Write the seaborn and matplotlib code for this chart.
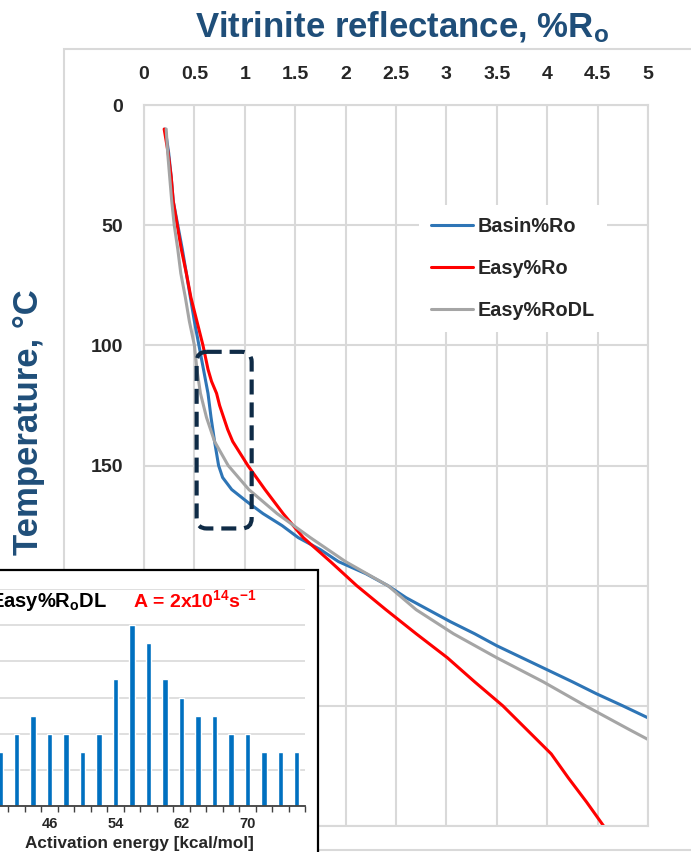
import numpy as np
import pandas as pd
import seaborn as sns
import matplotlib.pyplot as plt
from matplotlib.patches import Rectangle, FancyBboxPatch

# --- main chart: vitrinite reflectance (%Ro) vs temperature (C) ---
basin_temp = [10, 20, 30, 40, 50, 60, 70, 80, 90, 100, 110, 120, 130, 140, 150, 155, 160, 165,
              170, 175, 180, 185, 190, 195, 200, 205, 210, 215, 220, 225, 230, 235, 240, 245, 250, 255]
basin_ro = [0.21, 0.245, 0.27, 0.29, 0.335, 0.38, 0.42, 0.46, 0.50, 0.545, 0.59, 0.635, 0.665, 0.70,
            0.74, 0.78, 0.87, 1.02, 1.18, 1.37, 1.53, 1.75, 1.93, 2.20, 2.42, 2.60, 2.82, 3.04,
            3.28, 3.50, 3.75, 4.00, 4.25, 4.49, 4.75, 5.00]

easy_temp = [10, 20, 30, 40, 50, 60, 70, 80, 90, 100, 105, 110, 115, 120, 125, 130, 135, 140, 150,
             160, 170, 180, 190, 200, 210, 220, 230, 240, 250, 260, 270, 280, 290, 300]
easy_ro = [0.20, 0.24, 0.27, 0.29, 0.33, 0.37, 0.42, 0.465, 0.525, 0.585, 0.61, 0.635, 0.67, 0.72,
           0.75, 0.79, 0.83, 0.88, 1.03, 1.20, 1.38, 1.58, 1.85, 2.11, 2.40, 2.70, 3.01, 3.28,
           3.56, 3.80, 4.04, 4.21, 4.39, 4.56]

easydl_temp = [10, 20, 30, 40, 50, 60, 70, 80, 90, 100, 110, 120, 130, 140, 150, 160, 170, 180,
               190, 200, 210, 220, 230, 240, 250, 260, 264]
easydl_ro = [0.22, 0.235, 0.255, 0.275, 0.30, 0.335, 0.365, 0.41, 0.45, 0.50, 0.525, 0.56, 0.62,
             0.70, 0.835, 1.04, 1.32, 1.65, 2.00, 2.42, 2.70, 3.07, 3.50, 3.96, 4.38, 4.82, 5.00]

models = ['Basin%Ro', 'Easy%Ro', 'Easy%RoDL']
colors = ['#2E75B6', '#FF0000', '#A5A5A5']

# --- inset: Easy%RoDL activation energy distribution ---
energy = [40, 42, 44, 46, 48, 50, 52, 54, 56, 58, 60, 62, 64, 66, 68, 70, 72, 74, 76]
weight = [3, 4, 5, 4, 4, 3, 4, 7, 10, 9, 7, 6, 5, 5, 4, 4, 3, 3, 3]
energy_labels = ['46', '54', '62', '70']

# highlighted region (Ro range, temperature range)
box_ro = (0.522, 1.068)
box_temp = (102.7, 176.2)

navy = '#1F4E79'
grid_c = '#D9D9D9'
sans = ['Liberation Sans', 'DejaVu Sans']

sns.set_style('white')
plt.rcParams['font.family'] = sans
plt.rcParams['font.weight'] = 'bold'
plt.rcParams['mathtext.fontset'] = 'custom'
plt.rcParams['mathtext.bf'] = 'Liberation Sans:bold'
plt.rcParams['mathtext.rm'] = 'Liberation Sans:bold'
plt.rcParams['mathtext.default'] = 'bf'

W, H = 691, 852
fig = plt.figure(figsize=(W / 100, H / 100), dpi=100)

def fx(px):
    return px / W

def fy(py):
    return 1 - py / H

ax = fig.add_axes([fx(144), fy(826), fx(648) - fx(144), fy(105) - fy(826)])

df = pd.concat([
    pd.DataFrame({'ro': basin_ro, 'temp': basin_temp, 'model': models[0]}),
    pd.DataFrame({'ro': easy_ro, 'temp': easy_temp, 'model': models[1]}),
    pd.DataFrame({'ro': easydl_ro, 'temp': easydl_temp, 'model': models[2]}),
])
sns.lineplot(data=df, x='ro', y='temp', hue='model', hue_order=models,
             palette=dict(zip(models, colors)), sort=False, estimator=None,
             linewidth=2.2, ax=ax)

ax.set_xlim(0, 5)
ax.set_ylim(300, 0)
ax.set_xticks(np.arange(0, 5.01, 0.5))
ax.set_xticklabels(['0', '0.5', '1', '1.5', '2', '2.5', '3', '3.5', '4', '4.5', '5'])
ax.set_yticks(np.arange(0, 301, 50))
# the 200-300 labels sit under the inset in the original
ax.set_yticklabels(['0', '50', '100', '150', '', '', ''])
ax.xaxis.tick_top()
ax.tick_params(axis='x', length=0, pad=16, labelsize=14)
ax.tick_params(axis='y', length=0, pad=15, labelsize=14)
for lab in ax.get_xticklabels() + ax.get_yticklabels():
    lab.set_fontweight('bold')
ax.set_xlabel('')
ax.set_ylabel('')
ax.grid(True, color=grid_c, linewidth=1.5)
for s in ax.spines.values():
    s.set_color(grid_c)
    s.set_linewidth(1.5)

# dashed rounded box
ratio = (1 / 2.403) / (1 / 100.8)
box = FancyBboxPatch((box_ro[0], box_temp[0]), box_ro[1] - box_ro[0], box_temp[1] - box_temp[0],
                     boxstyle='round,pad=0,rounding_size=0.1', mutation_aspect=ratio,
                     fill=False, edgecolor='#0F2B46', linewidth=3, linestyle=(0, (3.6, 1.9)),
                     zorder=5)
ax.add_patch(box)

leg = ax.legend(loc='upper left', bbox_to_anchor=(fx(419), fy(205)), bbox_transform=fig.transFigure,
                borderaxespad=0, frameon=True, fancybox=False, edgecolor='none', facecolor='white',
                framealpha=1, handlelength=2.1, handletextpad=0.25, labelspacing=1.15, borderpad=0.6,
                prop={'family': sans, 'weight': 'bold', 'size': 14.3})
for line in leg.get_lines():
    line.set_linewidth(2.2)

# titles
fig.text(fx(402), fy(37), 'Vitrinite reflectance, %R$_{o}$', ha='center', va='baseline',
         fontsize=25, fontweight='bold', color=navy)
fig.text(fx(29), fy(422), 'Temperature, \u00b0C', rotation=90, ha='center', va='center',
         fontsize=25, fontweight='bold', color=navy)

# outer chart frame
fig.add_artist(Rectangle((fx(64), fy(850)), 1.0, fy(49) - fy(850), transform=fig.transFigure,
                         fill=False, edgecolor=grid_c, linewidth=1.5, zorder=0.5))

# inset frame
fig.add_artist(Rectangle((-0.05, -0.05), fx(318) + 0.05, fy(570) + 0.05, transform=fig.transFigure,
                         facecolor='white', edgecolor='black', linewidth=1.6, zorder=2))

ins = fig.add_axes([fx(-8.25), fy(805.7), fx(305) - fx(-8.25), fy(589.3) - fy(805.7)])
ins.set_zorder(3)
ins.patch.set_alpha(0)
sns.barplot(x=[str(e) for e in energy], y=weight, color='#0070C0', saturation=1, width=0.33, ax=ins)
ins.set_ylim(0, 12)
ins.set_yticks(np.arange(0, 13, 2))
ins.set_xlim(-0.5, len(energy) - 0.5)
ins.set_xticks([energy.index(int(t)) for t in energy_labels])
ins.set_xticklabels(energy_labels)
ins.set_xticks(np.arange(-0.5, len(energy), 1), minor=True)
ins.tick_params(axis='x', which='major', bottom=False, length=0, pad=8, labelsize=10.5)
ins.tick_params(axis='x', which='minor', bottom=True, length=4, width=1, color='#404040',
                direction='out')
ins.tick_params(axis='y', length=0, labelleft=False)
for lab in ins.get_xticklabels():
    lab.set_fontweight('bold')
ins.yaxis.grid(True, color=grid_c, linewidth=1.2)
ins.set_axisbelow(True)
for k in ['left', 'right', 'top']:
    ins.spines[k].set_visible(False)
ins.spines['bottom'].set_color('#404040')
ins.spines['bottom'].set_linewidth(1.3)
ins.set_xlabel('Activation energy [kcal/mol]', fontsize=12.3, fontweight='bold')
ins.xaxis.set_label_coords(fx(139 + 8.25) / (fx(305) - fx(-8.25)), -0.14)
ins.set_ylabel('')

fig.text(fx(107), fy(607), 'Easy%R$_{o}$DL', ha='right', va='baseline', fontsize=14.5,
         fontweight='bold', color='black', zorder=4)
fig.text(fx(133), fy(607), 'A = 2x10$^{14}$s$^{-1}$', ha='left', va='baseline', fontsize=14,
         fontweight='bold', color='#FF0000', zorder=4)

fig.savefig('out.png', dpi=100)
